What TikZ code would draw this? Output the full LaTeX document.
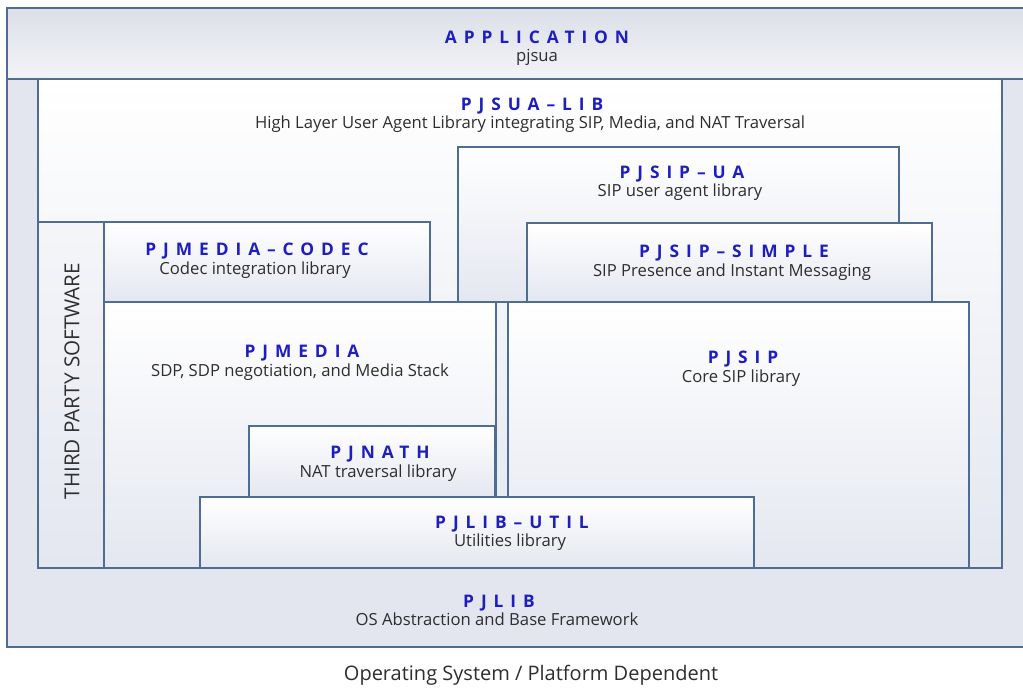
\documentclass[tikz,border=0pt]{standalone}
\usepackage{fontspec}
\setmainfont{Open Sans}
\newfontfamily\ttlfont{Open Sans}[LetterSpace=40]
\usetikzlibrary{fit}
\definecolor{bord}{HTML}{4D6D92}
\definecolor{ttlc}{HTML}{1E1EBE}
\definecolor{subc}{HTML}{2E2E2E}
\definecolor{botc}{HTML}{E4E7F0}
\definecolor{libc}{HTML}{E3E6EF}
\definecolor{apptop}{HTML}{DCDFE8}
\definecolor{appbot}{HTML}{F3F4F8}
\begin{document}
\begin{tikzpicture}[x=0.75pt,y=-0.75pt,
  box/.style={draw=bord, line width=1pt, inner sep=0pt, outer sep=0pt, top color=white, bottom color=botc},
  ttl/.style={font=\ttlfont\bfseries\fontsize{13}{15}\selectfont, text=ttlc, inner sep=0pt, anchor=base},
  sub/.style={font=\fontsize{12.5}{14}\selectfont, text=subc, inner sep=0pt, anchor=base}]
\useasboundingbox (0,0) rectangle (1023,687);
\fill[white] (0,0) rectangle (1023,687);
% boxes
\node[box, fit={(7,8) (1028,647)}, top color=libc, bottom color=libc] (pjlib) {};
\node[box, fit={(7,8) (1028,79)}, top color=apptop, bottom color=appbot] (app) {};
\node[box, fit={(38,79) (1002,568)}] (pjsualib) {};
\node[box, fit={(38,222) (104,568)}, top color=white!60!botc] (third) {};
\node[box, fit={(104,222) (430,302)}] (codec) {};
\node[box, fit={(458,147) (899,302)}] (sipua) {};
\node[box, fit={(527,223) (932,302)}] (simple) {};
\node[box, fit={(104,302) (496,568)}] (pjmedia) {};
\node[box, fit={(508,302) (969,568)}] (pjsip) {};
\node[box, fit={(249,426) (495,497)}] (pjnath) {};
\node[box, fit={(200,497) (754,568)}] (util) {};
% texts
\node[ttl] (tapp) at (537,43) {APPLICATION};
\node[sub] (sapp) at (537,61) {pjsua};
\node[ttl] (tsualib) at (532,110) {PJSUA–LIB};
\node[sub] (ssualib) at (530,128) {High Layer User Agent Library integrating SIP, Media, and NAT Traversal};
\node[ttl] (tsipua) at (682,178) {PJSIP–UA};
\node[sub] (ssipua) at (680,196) {SIP user agent library};
\node[ttl] (tcodec) at (257,255) {PJMEDIA–CODEC};
\node[sub] (scodec) at (255,274) {Codec integration library};
\node[ttl] (tsimple) at (734,257) {PJSIP–SIMPLE};
\node[sub] (ssimple) at (732,276) {SIP Presence and Instant Messaging};
\node[ttl] (tmedia) at (302,357) {PJMEDIA};
\node[sub] (smedia) at (300,376) {SDP, SDP negotiation, and Media Stack};
\node[ttl] (tsip) at (743,363) {PJSIP};
\node[sub] (ssip) at (741,382) {Core SIP library};
\node[ttl] (tnath) at (380,458) {PJNATH};
\node[sub] (snath) at (378,477) {NAT traversal library};
\node[ttl] (tutil) at (512,528) {PJLIB–UTIL};
\node[sub] (sutil) at (510,546) {Utilities library};
\node[ttl] (tlib) at (499,607) {PJLIB};
\node[sub] (slib) at (497,625) {OS Abstraction and Base Framework};
\node[font=\fontsize{15.5}{17}\selectfont, text=subc, rotate=90, inner sep=0pt] (tthird) at (72,381) {THIRD PARTY SOFTWARE};
\node[font=\fontsize{15}{17}\selectfont, text=subc, inner sep=0pt, anchor=base] (os) at (531,680) {Operating System / Platform Dependent};
\end{tikzpicture}
\end{document}
